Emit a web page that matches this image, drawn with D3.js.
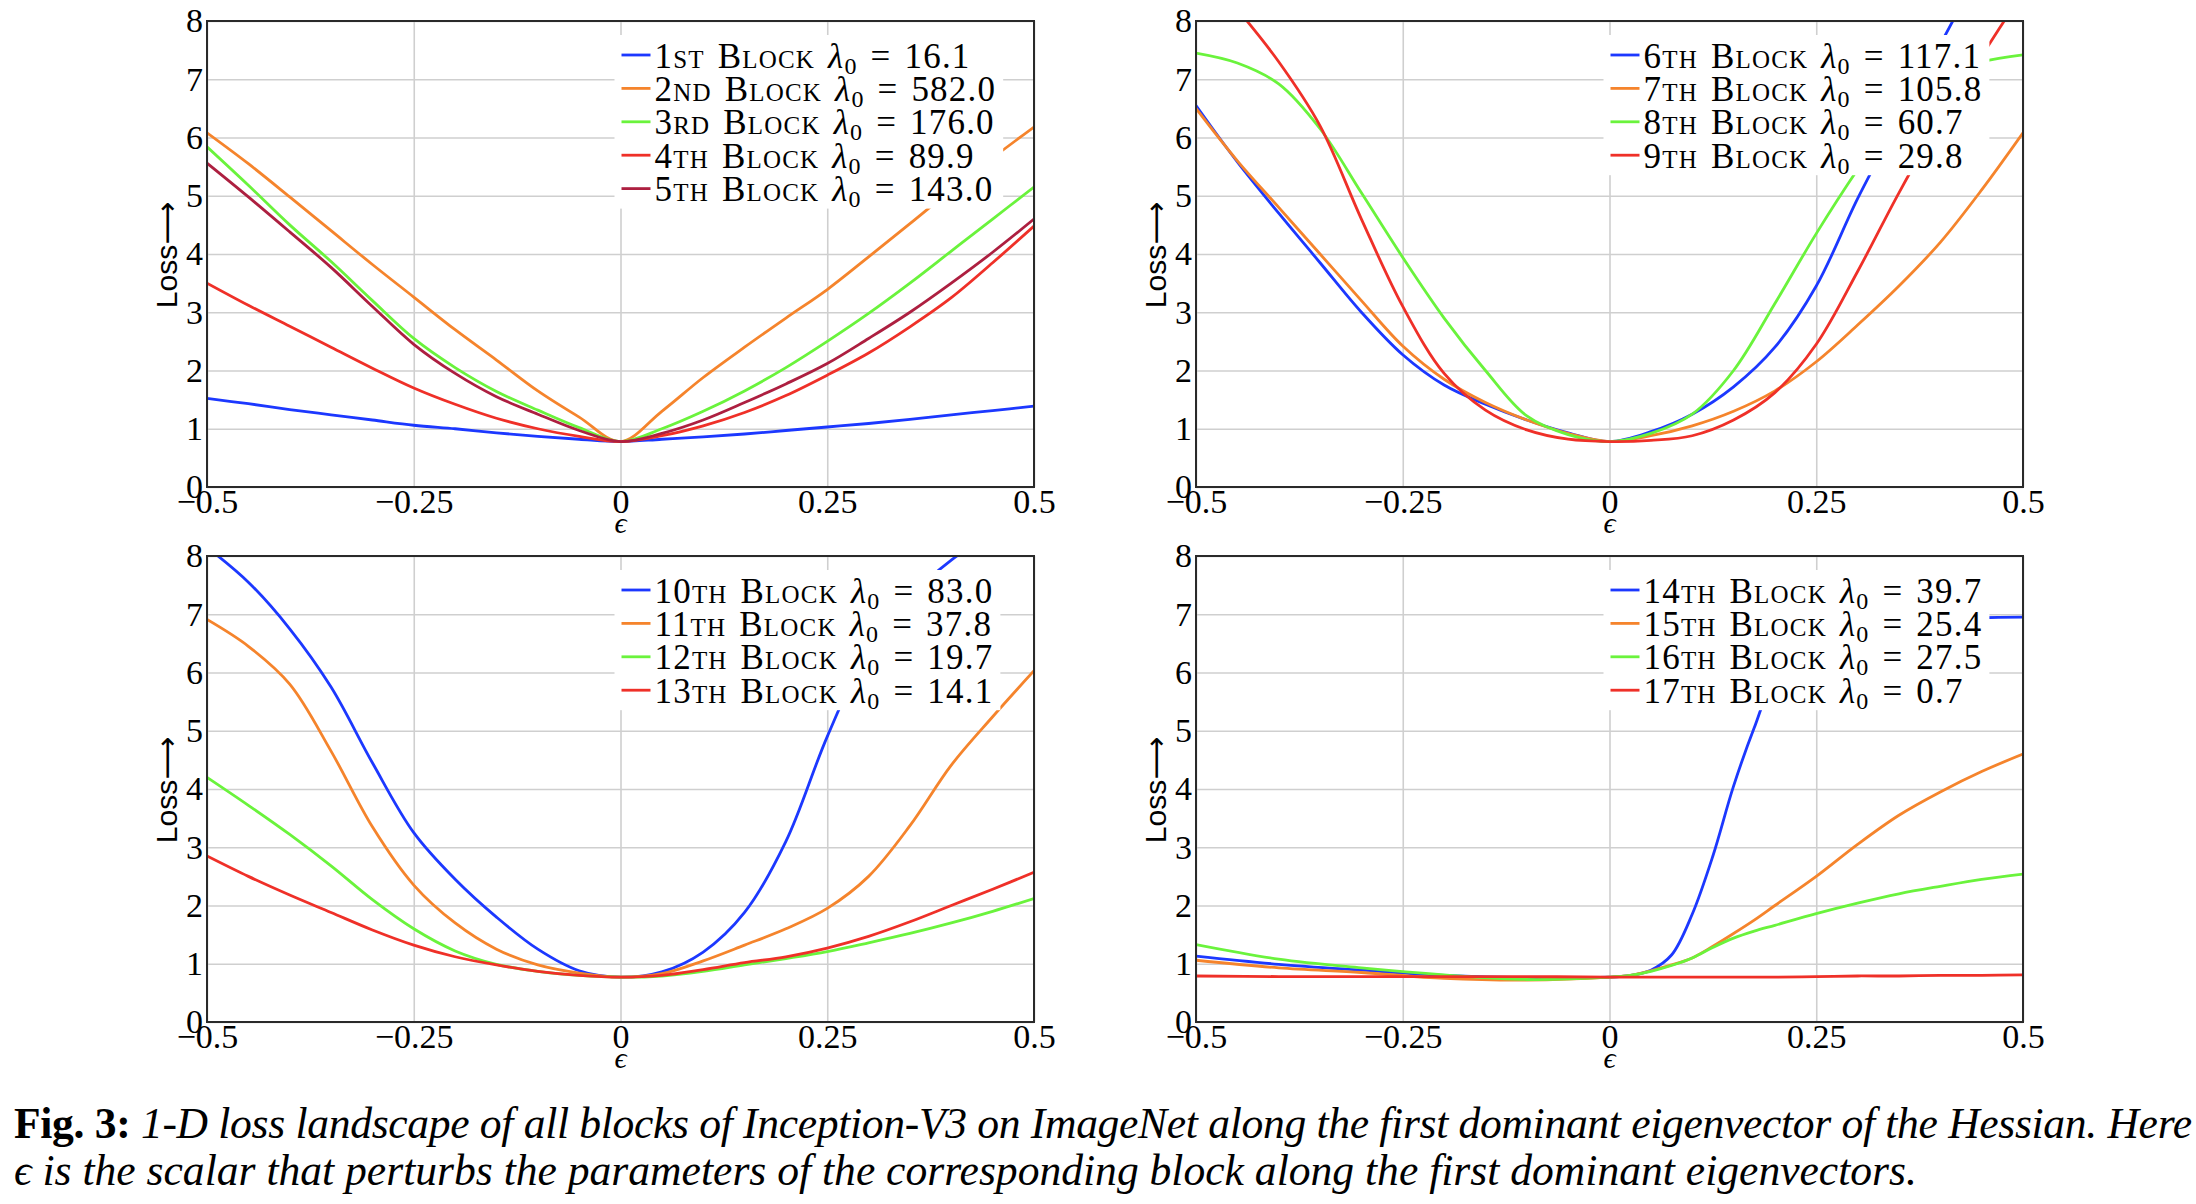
<!DOCTYPE html>
<html lang="en">
<head>
<meta charset="utf-8">
<title>1-D loss landscape of Inception-V3 blocks</title>
<script src="https://cdn.jsdelivr.net/npm/d3@7"></script>
<style>
  body { margin: 0; background: #fff; }
  svg { display: block; }
  .tick text { font-family: "Liberation Serif", "DejaVu Serif", serif; font-size: 34px; fill: #000; }
  .grid line { stroke: #cfcfcf; stroke-width: 1.6; }
  .grid path { display: none; }
  .legend text { font-family: "Liberation Serif", "DejaVu Serif", serif; font-size: 35px; letter-spacing: 1.2px; word-spacing: 3px; }
</style>
</head>
<body>
<script>
var epsA = [-0.5, -0.45, -0.4, -0.35, -0.3, -0.25, -0.2, -0.15, -0.1, -0.05, 0,
            0.05, 0.1, 0.15, 0.2, 0.25, 0.3, 0.35, 0.4, 0.45, 0.5];
var epsD = [-0.5, -0.4, -0.3, -0.2, -0.1, 0, 0.025, 0.05, 0.075, 0.1, 0.125,
            0.15, 0.175, 0.2, 0.25, 0.3, 0.35, 0.4, 0.45, 0.5];

var block1  = [1.52, 1.43, 1.33, 1.24, 1.15, 1.06, 1.00, 0.93, 0.87, 0.82, 0.78, 0.82, 0.86, 0.91, 0.97, 1.03, 1.09, 1.16, 1.24, 1.31, 1.39];
var block2  = [6.08, 5.55, 4.98, 4.40, 3.82, 3.26, 2.70, 2.18, 1.65, 1.20, 0.78, 1.30, 1.88, 2.40, 2.90, 3.39, 3.95, 4.52, 5.10, 5.65, 6.18];
var block3  = [5.84, 5.18, 4.50, 3.87, 3.20, 2.55, 2.05, 1.64, 1.32, 1.02, 0.78, 1.00, 1.30, 1.65, 2.05, 2.50, 2.98, 3.50, 4.05, 4.60, 5.15];
var block4  = [3.50, 3.12, 2.76, 2.40, 2.04, 1.70, 1.42, 1.18, 1.00, 0.87, 0.78, 0.88, 1.05, 1.28, 1.57, 1.92, 2.30, 2.75, 3.25, 3.85, 4.48];
var block5  = [5.56, 4.98, 4.38, 3.77, 3.10, 2.45, 1.95, 1.55, 1.25, 0.97, 0.78, 0.92, 1.15, 1.45, 1.77, 2.12, 2.55, 3.00, 3.50, 4.03, 4.60];

var block6  = [6.55, 5.58, 4.70, 3.85, 3.00, 2.27, 1.75, 1.42, 1.15, 0.93, 0.78, 0.95, 1.25, 1.72, 2.40, 3.45, 4.95, 6.30, 7.60, 8.90, 10.0];
var block7  = [6.50, 5.60, 4.80, 4.00, 3.20, 2.42, 1.85, 1.45, 1.15, 0.92, 0.78, 0.88, 1.05, 1.30, 1.65, 2.15, 2.78, 3.45, 4.20, 5.10, 6.08];
var block8  = [7.45, 7.28, 6.92, 6.15, 5.05, 3.94, 2.90, 2.00, 1.22, 0.90, 0.78, 0.92, 1.25, 2.00, 3.15, 4.35, 5.45, 6.45, 7.05, 7.30, 7.42];
var block9  = [9.00, 8.20, 7.30, 6.20, 4.60, 3.10, 1.95, 1.32, 0.98, 0.82, 0.78, 0.80, 0.88, 1.15, 1.62, 2.45, 3.70, 5.05, 6.30, 7.40, 8.50];

var block10 = [8.15, 7.55, 6.75, 5.75, 4.45, 3.25, 2.45, 1.80, 1.25, 0.88, 0.77, 0.86, 1.20, 1.88, 3.10, 4.90, 6.40, 7.30, 7.93, 8.40, 8.80];
var block11 = [6.91, 6.45, 5.80, 4.65, 3.35, 2.35, 1.70, 1.25, 0.98, 0.84, 0.77, 0.83, 1.05, 1.32, 1.60, 1.95, 2.50, 3.37, 4.41, 5.24, 6.03];
var block12 = [4.20, 3.72, 3.22, 2.68, 2.10, 1.60, 1.22, 0.99, 0.87, 0.80, 0.77, 0.79, 0.87, 0.98, 1.09, 1.21, 1.36, 1.52, 1.70, 1.90, 2.12];
var block13 = [2.85, 2.50, 2.18, 1.88, 1.58, 1.32, 1.12, 0.98, 0.87, 0.80, 0.77, 0.80, 0.90, 1.02, 1.12, 1.27, 1.47, 1.72, 2.00, 2.28, 2.57];

var block14 = [1.13, 0.99, 0.89, 0.80, 0.76, 0.77, 0.80, 0.89, 1.15, 1.85, 2.85, 4.05, 5.05, 5.90, 6.60, 6.85, 6.90, 6.92, 6.94, 6.95];
var block15 = [1.06, 0.93, 0.85, 0.75, 0.72, 0.77, 0.80, 0.88, 0.98, 1.10, 1.30, 1.52, 1.75, 2.00, 2.50, 3.05, 3.55, 3.95, 4.30, 4.60];
var block16 = [1.33, 1.08, 0.93, 0.81, 0.73, 0.77, 0.80, 0.87, 0.97, 1.10, 1.28, 1.44, 1.56, 1.66, 1.86, 2.04, 2.20, 2.33, 2.45, 2.54];
var block17 = [0.79, 0.78, 0.78, 0.78, 0.78, 0.77, 0.77, 0.77, 0.77, 0.77, 0.77, 0.77, 0.77, 0.77, 0.78, 0.79, 0.79, 0.80, 0.80, 0.81];

var ordinals = ["1st", "2nd", "3rd", "4th", "5th", "6th", "7th", "8th", "9th",
                "10th", "11th", "12th", "13th", "14th", "15th", "16th", "17th"];
var lambdas = ["16.1", "582.0", "176.0", "89.9", "143.0", "117.1", "105.8", "60.7", "29.8",
               "83.0", "37.8", "19.7", "14.1", "39.7", "25.4", "27.5", "0.7"];

var xTicks = [-0.5, -0.25, 0, 0.25, 0.5];
var xTickLabels = ["\u22120.5", "\u22120.25", "0", "0.25", "0.5"];
var yTicks = [0, 1, 2, 3, 4, 5, 6, 7, 8];

var colors = ["#1c38ff", "#f5842c", "#6af33c", "#ef3028", "#ad1f40"];

var panels = [
  {left: 207,  top: 21,  eps: epsA, series: [block1, block2, block3, block4, block5], first: 0},
  {left: 1196, top: 21,  eps: epsA, series: [block6, block7, block8, block9], first: 5},
  {left: 207,  top: 556, eps: epsA, series: [block10, block11, block12, block13], first: 9},
  {left: 1196, top: 556, eps: epsD, series: [block14, block15, block16, block17], first: 13}
];

var W = 2196, H = 1204, w = 827, h = 466;

var svg = d3.select("body").append("svg")
    .attr("width", W)
    .attr("height", H);

var x = d3.scaleLinear().domain([-0.5, 0.5]).range([0, w]);
var y = d3.scaleLinear().domain([0, 8]).range([h, 0]);

var line = d3.line()
    .x(function(d) { return x(d[0]); })
    .y(function(d) { return y(d[1]); })
    .curve(d3.curveCatmullRom.alpha(0.5));

panels.forEach(function(p, pi) {
  var g = svg.append("g")
      .attr("transform", "translate(" + p.left + "," + p.top + ")");

  g.append("clipPath")
      .attr("id", "clip" + pi)
    .append("rect")
      .attr("width", w)
      .attr("height", h);

  // grid
  g.append("g")
      .attr("class", "grid")
      .attr("transform", "translate(0," + h + ")")
      .call(d3.axisBottom(x).tickValues(xTicks).tickSize(-h).tickFormat(""));
  g.append("g")
      .attr("class", "grid")
      .call(d3.axisLeft(y).tickValues(yTicks).tickSize(-w).tickFormat(""));

  // tick labels
  var xa = g.append("g")
      .attr("transform", "translate(0," + h + ")")
      .call(d3.axisBottom(x).tickValues(xTicks).tickSize(0).tickPadding(2)
        .tickFormat(function(d, i) { return xTickLabels[i]; }));
  xa.select(".domain").remove();

  var ya = g.append("g")
      .call(d3.axisLeft(y).tickValues(yTicks).tickSize(0).tickPadding(4).tickFormat(d3.format("d")));
  ya.select(".domain").remove();

  // curves
  var lines = g.append("g").attr("clip-path", "url(#clip" + pi + ")");
  p.series.forEach(function(vals, si) {
    lines.append("path")
        .datum(vals.map(function(v, k) { return [p.eps[k], v]; }))
        .attr("fill", "none")
        .attr("stroke", colors[si])
        .attr("stroke-width", 2.8)
        .attr("stroke-linejoin", "round")
        .attr("d", line);
  });

  // legend
  var leg = g.append("g")
      .attr("class", "legend")
      .attr("transform", "translate(" + (x(0) + 1) + ",34)");
  var box = leg.append("rect").attr("fill", "#fff");
  p.series.forEach(function(vals, si) {
    var n = p.first + si;
    var row = leg.append("g").attr("transform", "translate(0," + (si * 33.4) + ")");
    row.append("line")
        .attr("x1", 0).attr("x2", 29)
        .attr("stroke", colors[si])
        .attr("stroke-width", 2.8);
    var t = row.append("text")
        .attr("x", 33)
        .attr("y", 12.5);
    t.append("tspan")
        .style("font-variant", "small-caps")
        .text(ordinals[n] + " Block ");
    t.append("tspan")
        .style("font-style", "italic")
        .text("\u03bb");
    t.append("tspan")
        .attr("font-size", "24px")
        .attr("dy", 6)
        .text("0");
    t.append("tspan")
        .attr("dy", -6)
        .text(" = " + lambdas[n]);
  });
  var bb = leg.node().getBBox();
  box.attr("x", -7)
      .attr("y", -20)
      .attr("width", bb.width + 14)
      .attr("height", (p.series.length - 1) * 33.4 + 40);

  // frame
  g.append("rect")
      .attr("width", w)
      .attr("height", h)
      .attr("fill", "none")
      .attr("stroke", "#2a2a2a")
      .attr("stroke-width", 2);

  // axis titles
  g.append("text")
      .attr("x", x(0))
      .attr("y", h + 46)
      .attr("text-anchor", "middle")
      .style("font-family", "'Liberation Serif', 'DejaVu Serif', serif")
      .style("font-style", "italic")
      .style("font-size", "30px")
      .text("\u03f5");

  g.append("text")
      .attr("transform", "translate(-30," + (h / 2 + 1) + ")rotate(-90)")
      .attr("text-anchor", "middle")
      .style("font-family", "'Liberation Sans', 'DejaVu Sans', sans-serif")
      .style("font-size", "30px")
      .text("Loss\u27f6");
});

// caption
var capFont = "'Liberation Serif', 'DejaVu Serif', serif";
var cap2 = svg.append("text")
    .attr("x", 14)
    .attr("y", 1185)
    .style("font-family", capFont)
    .style("font-style", "italic")
    .style("font-size", "39px")
    .text("\u03f5 is the scalar that perturbs the parameters of the corresponding block along the first dominant eigenvectors.");
var fs = 39 * 1903 / cap2.node().getComputedTextLength();
cap2.style("font-size", fs + "px");

var cap1 = svg.append("text")
    .attr("x", 14)
    .attr("y", 1138)
    .attr("textLength", 2178)
    .attr("lengthAdjust", "spacing")
    .style("font-family", capFont)
    .style("font-size", fs + "px");
cap1.append("tspan")
    .style("font-weight", "bold")
    .text("Fig. 3:");
cap1.append("tspan")
    .style("font-style", "italic")
    .text(" 1-D loss landscape of all blocks of Inception-V3 on ImageNet along the first dominant eigenvector of the Hessian. Here");
</script>
</body>
</html>
